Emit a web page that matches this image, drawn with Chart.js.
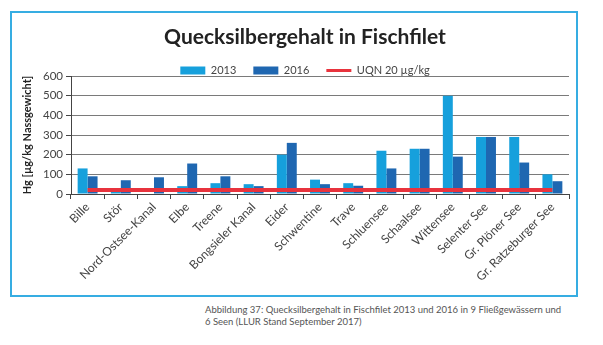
<!DOCTYPE html>
<html>
<head>
<meta charset="utf-8">
<script src="https://cdn.jsdelivr.net/npm/chart.js@4.4.1/dist/chart.umd.min.js"></script>
<style>
	body {
		margin: 0;
		background: #fff;
		font-family: Lato, sans-serif;
	}
	.frame {
		position: absolute;
		left: 10px;
		top: 11px;
		width: 564px;
		height: 282px;
		border: 2px solid #36ade2;
	}
	.plot {
		position: absolute;
		left: 12px;
		top: 13px;
		width: 586px;
		height: 282px;
	}
	.caption {
		position: absolute;
		left: 205px;
		top: 304px;
		width: 398px;
		font-size: 9.5px;
		line-height: 12px;
		color: #555;
	}
</style>
</head>
<body>
<div class="frame"></div>
<div class="plot"><canvas id="hg-chart"></canvas></div>
<div class="caption">Abbildung 37: Quecksilbergehalt in Fischfilet 2013 und 2016 in 9 Fließgewässern und<br>6 Seen (LLUR Stand September 2017)</div>
<script>
// Gewässer (9 Fließgewässer, 6 Seen)
const categories = [
	'Bille',
	'Stör',
	'Nord-Ostsee-Kanal',
	'Elbe',
	'Treene',
	'Bongsieler Kanal',
	'Eider',
	'Schwentine',
	'Trave',
	'Schluensee',
	'Schaalsee',
	'Wittensee',
	'Selenter See',
	'Gr. Plöner See',
	'Gr. Ratzeburger See',
];

// Hg in µg/kg Nassgewicht
const values2013 = [ 130, 25, null, 40, 55, 50, 200, 73, 55, 220, 230, 500, 290, 290, 100 ];
const values2016 = [ 90, 70, 85, 155, 90, 40, 260, 50, 42, 130, 230, 190, 290, 160, 65 ];

// Umweltqualitätsnorm
const uqnValue = 20;
const uqnLine = categories.map( () => uqnValue );

const yTicks = [ 0, 100, 200, 300, 400, 500, 600 ];

const textColor = '#444';

// the default legend leaves 10px below the items, the original sits tight on the plot
const tightLegend = {
	id: 'tightLegend',
	beforeInit( chart ) {
		const legend = chart.legend;
		if ( ! legend ) {
			return;
		}
		const fit = legend.fit;
		legend.fit = function () {
			fit.call( this );
			this.height -= 10;
		};
	},
};

const ctx = document.getElementById( 'hg-chart' ).getContext( '2d' );

new Chart( ctx, {
	type: 'bar',
	plugins: [ tightLegend ],
	data: {
		labels: categories,
		datasets: [
			{
				type: 'line',
				label: 'UQN 20 µg/kg',
				data: uqnLine,
				borderColor: '#e8333d',
				borderWidth: 4,
				pointRadius: 0,
				order: 0,
			},
			{
				label: '2013',
				data: values2013,
				backgroundColor: '#16a0dc',
				order: 1,
			},
			{
				label: '2016',
				data: values2016,
				backgroundColor: '#1f67b1',
				order: 1,
			},
		],
	},
	options: {
		responsive: true,
		maintainAspectRatio: false,
		animation: false,
		layout: {
			padding: 0,
		},
		datasets: {
			bar: {
				categoryPercentage: 0.6,
				barPercentage: 1.0,
			},
		},
		plugins: {
			title: {
				display: true,
				text: 'Quecksilbergehalt in Fischfilet',
				color: '#222',
				font: { family: 'Lato', size: 21, weight: 'bold', lineHeight: 1 },
				padding: { top: 14, bottom: 0 },
			},
			legend: {
				display: true,
				labels: {
					color: textColor,
					font: { family: 'Lato', size: 11 },
					boxWidth: 25,
					boxHeight: 8,
					padding: 17,
					usePointStyle: true,
					pointStyleWidth: 25,
					generateLabels: ( chart ) => {
						const order = [ 1, 2, 0 ];
						return order.map( ( i ) => {
							const ds = chart.data.datasets[ i ];
							const isLine = ds.type === 'line';
							return {
								text: ds.label,
								datasetIndex: i,
								fillStyle: isLine ? ds.borderColor : ds.backgroundColor,
								strokeStyle: isLine ? ds.borderColor : ds.backgroundColor,
								lineWidth: isLine ? 3 : 0,
								pointStyle: isLine ? 'line' : 'rect',
								fontColor: textColor,
								hidden: false,
							};
						} );
					},
				},
			},
			tooltip: { enabled: false },
		},
		scales: {
			x: {
				grid: {
					display: true,
					drawOnChartArea: false,
					drawTicks: true,
					tickLength: 5,
					tickColor: '#444',
					offset: true,
				},
				border: { color: '#444', width: 1 },
				ticks: {
					autoSkip: false,
					maxRotation: 45,
					minRotation: 45,
					padding: 1,
					color: textColor,
					font: { family: 'Lato', size: 12 },
				},
				afterFit: ( scale ) => {
					scale.height = 101;
				},
			},
			y: {
				min: 0,
				max: 600,
				afterBuildTicks: ( scale ) => {
					scale.ticks = yTicks.map( ( v ) => ( { value: v } ) );
				},
				grid: {
					color: '#7a7a7a',
					lineWidth: 1,
					tickLength: 5,
					tickColor: '#444',
				},
				border: { color: '#444', width: 1 },
				ticks: {
					padding: 3,
					color: textColor,
					font: { family: 'Lato', size: 11.5 },
				},
				title: {
					display: true,
					text: 'Hg [µg/kg Nassgewicht]',
					color: '#222',
					font: { family: 'Lato', size: 11, weight: 'bold' },
					padding: { top: 9, bottom: 0 },
				},
				afterFit: ( scale ) => {
					scale.width = 59;
				},
			},
			// empty spacer on the right, keeps title and legend centred on the frame
			spacer: {
				type: 'linear',
				position: 'right',
				display: true,
				grid: { display: false },
				border: { display: false },
				ticks: { display: false },
				afterFit: ( scale ) => {
					scale.width = 29;
				},
			},
		},
	},
} );
</script>
</body>
</html>
